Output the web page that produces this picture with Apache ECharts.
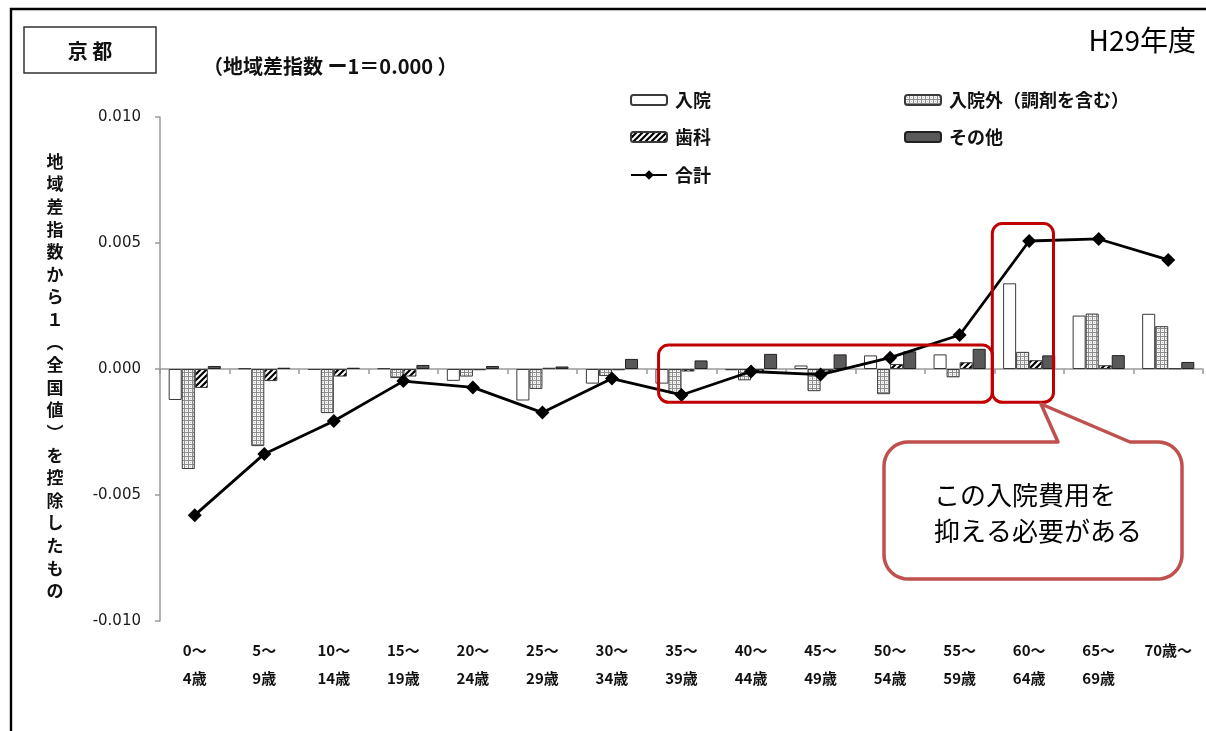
<!DOCTYPE html>
<html>
<head>
<meta charset="utf-8">
<script src="https://cdn.jsdelivr.net/npm/echarts@6/dist/echarts.min.js"></script>
<style>
  html, body { margin: 0; padding: 0; background: #fff; }
  #chart { width: 1206px; height: 731px; }
</style>
</head>
<body>
<div id="chart"></div>
<script>
// Age bands (x axis)
const categories = [
  '0～\n4歳', '5～\n9歳', '10～\n14歳', '15～\n19歳', '20～\n24歳',
  '25～\n29歳', '30～\n34歳', '35～\n39歳', '40～\n44歳', '45～\n49歳',
  '50～\n54歳', '55～\n59歳', '60～\n64歳', '65～\n69歳', '70歳～'
];

// Contribution to the regional difference index (index − 1), by category of care
const inpatient  = [-0.00123, 0.00003, -0.00004, 0.00003, -0.00047, -0.00125, -0.00058, -0.00058, -0.00005, 0.00014, 0.00054, 0.00058, 0.00340, 0.00212, 0.00219];
const outpatient = [-0.00397, -0.00306, -0.00175, -0.00036, -0.00030, -0.00079, -0.00028, -0.00097, -0.00045, -0.00088, -0.00100, -0.00033, 0.00068, 0.00220, 0.00170];
const dental     = [-0.00075, -0.00048, -0.00030, -0.00030, -0.00005, 0.00005, -0.00005, -0.00010, -0.00015, -0.00010, 0.00020, 0.00027, 0.00035, 0.00015, 0.00003];
const others     = [0.00012, 0.00005, 0.00005, 0.00016, 0.00012, 0.00010, 0.00040, 0.00034, 0.00060, 0.00058, 0.00070, 0.00080, 0.00054, 0.00055, 0.00028];
const total      = [-0.00580, -0.00337, -0.00206, -0.00048, -0.00073, -0.00173, -0.00038, -0.00103, -0.00010, -0.00022, 0.00045, 0.00135, 0.00508, 0.00516, 0.00433];

// Y axis ticks
const yTicks = { min: -0.010, max: 0.010, interval: 0.005 };

const JP = '"Noto Sans CJK JP", "Noto Sans", sans-serif';

// Dotted fill for outpatient bars
function dotPattern() {
  const c = document.createElement('canvas');
  c.width = 4; c.height = 4;
  const g = c.getContext('2d');
  g.fillStyle = '#f4f4f4';
  g.fillRect(0, 0, 4, 4);
  g.fillStyle = '#8c8c8c';
  g.fillRect(0, 0, 4, 1);
  g.fillRect(0, 0, 1, 4);
  g.fillStyle = '#bdbdbd';
  g.fillRect(2, 2, 1, 1);
  return c;
}

// Diagonal hatch for dental bars
function hatchPattern() {
  const s = 6;
  const c = document.createElement('canvas');
  c.width = s; c.height = s;
  const g = c.getContext('2d');
  g.fillStyle = '#ffffff';
  g.fillRect(0, 0, s, s);
  g.strokeStyle = '#000000';
  g.lineWidth = 2.2;
  g.beginPath();
  g.moveTo(-1, s + 1); g.lineTo(s + 1, -1);
  g.moveTo(-1, 1); g.lineTo(1, -1);
  g.moveTo(s - 1, s + 1); g.lineTo(s + 1, s - 1);
  g.stroke();
  return c;
}

const chart = echarts.init(document.getElementById('chart'), null, { renderer: 'canvas' });

const barBorder = { borderColor: '#3a3a3a', borderWidth: 1 };

function legendAt(name, left, top) {
  return {
    data: [name], left: left, top: top, padding: 0,
    itemWidth: 36, itemHeight: 10, itemGap: 6,
    selectedMode: false,
    textStyle: { fontFamily: JP, fontSize: 18, fontWeight: 'bold', color: '#111', lineHeight: 20,
                 padding: [0, 0, 0, 3] }
  };
}

chart.setOption({
  animation: false,
  backgroundColor: '#fff',
  grid: { left: 160, right: 3, top: 117, bottom: 110, containLabel: false },
  legend: [
    legendAt('入院', 630, 90),
    legendAt('入院外（調剤を含む）', 904, 90),
    legendAt('歯科', 630, 127),
    legendAt('その他', 904, 127),
    Object.assign(legendAt('合計', 630, 165), { itemHeight: 12 })
  ],
  xAxis: [
    {
      type: 'category', data: categories, position: 'bottom',
      axisLine: { show: false, onZero: false },
      axisTick: { show: false },
      axisLabel: {
        interval: 0, margin: 15, fontFamily: JP, fontSize: 15, fontWeight: 'bold',
        color: '#111', lineHeight: 28
      }
    },
    {
      type: 'category', data: categories, position: 'bottom',
      axisLine: { show: true, onZero: true, lineStyle: { color: '#9a9a9a', width: 1.5 } },
      axisTick: { show: true, length: 5, lineStyle: { color: '#9a9a9a', width: 1.5 } },
      axisLabel: { show: false }
    }
  ],
  yAxis: {
    type: 'value', min: yTicks.min, max: yTicks.max, interval: yTicks.interval,
    axisLine: { show: true, lineStyle: { color: '#9a9a9a', width: 1.5 } },
    axisTick: { show: true, length: 5, lineStyle: { color: '#9a9a9a', width: 1.5 } },
    splitLine: { show: false },
    axisLabel: {
      margin: 19, fontFamily: '"DejaVu Sans", sans-serif', fontSize: 15, color: '#1a1a1a',
      formatter: v => v.toFixed(3)
    }
  },
  series: [
    {
      name: '入院', type: 'bar', data: inpatient, xAxisIndex: 0,
      barGap: '0%', barCategoryGap: '25%',
      itemStyle: Object.assign({ color: '#ffffff' }, barBorder)
    },
    {
      name: '入院外（調剤を含む）', type: 'bar', data: outpatient, xAxisIndex: 0,
      barGap: '0%', barCategoryGap: '25%',
      itemStyle: Object.assign({ color: { image: dotPattern(), repeat: 'repeat' } }, barBorder)
    },
    {
      name: '歯科', type: 'bar', data: dental, xAxisIndex: 0,
      barGap: '0%', barCategoryGap: '25%',
      itemStyle: Object.assign({ color: { image: hatchPattern(), repeat: 'repeat' } }, barBorder)
    },
    {
      name: 'その他', type: 'bar', data: others, xAxisIndex: 0,
      barGap: '0%', barCategoryGap: '25%',
      itemStyle: { color: '#595959', borderColor: '#222', borderWidth: 1 }
    },
    {
      name: '合計', type: 'line', data: total, xAxisIndex: 0, z: 5,
      symbol: 'diamond', symbolSize: 14,
      lineStyle: { color: '#000', width: 2.8 },
      itemStyle: { color: '#000' }
    }
  ]
});

// Annotations placed from axis coordinates
const px = (i, v) => chart.convertToPixel({ xAxisIndex: 0, yAxisIndex: 0 }, [i, v]);
const band = px(1, 0)[0] - px(0, 0)[0];
const box1L = px(7, 0)[0] - 0.33 * band;
const box1R = px(11, 0)[0] + 0.47 * band;
const boxTop1 = px(0, 0.00095)[1];
const boxBot = px(0, -0.00132)[1];
const box2L = box1R;
const box2R = px(12, 0)[0] + 0.35 * band;
const boxTop2 = px(0, 0.00577)[1];

const yName = ['地','域','差','指','数','か','ら','１','︵','全','国','値','︶','を','控','除','し','た','も','の'].join('\n');

// Speech bubble outline: rounded box with a pointer on its top edge
const cb = { l: 884, r: 1182, t: 442, b: 579, rad: 24 };
const tip = [1041, 404];
const baseL = 1058, baseR = 1130;
function arc(cx, cy, r, a0, a1, n) {
  const pts = [];
  for (let k = 0; k <= n; k++) {
    const a = a0 + (a1 - a0) * k / n;
    pts.push([cx + r * Math.cos(a), cy + r * Math.sin(a)]);
  }
  return pts;
}
const H = Math.PI / 2;
const bubble = [].concat(
  [[baseL, cb.t], tip, [baseR, cb.t]],
  arc(cb.r - cb.rad, cb.t + cb.rad, cb.rad, -H, 0, 10),
  arc(cb.r - cb.rad, cb.b - cb.rad, cb.rad, 0, H, 10),
  arc(cb.l + cb.rad, cb.b - cb.rad, cb.rad, H, 2 * H, 10),
  arc(cb.l + cb.rad, cb.t + cb.rad, cb.rad, 2 * H, 3 * H, 10)
);

chart.setOption({
  graphic: [
    // page frame
    { type: 'polyline', shape: { points: [[11, 731], [11, 9], [1206, 9]] },
      style: { stroke: '#000', lineWidth: 2.4, fill: null }, z: 1 },
    // region box
    { type: 'rect', shape: { x: 24, y: 27, width: 132, height: 46 },
      style: { stroke: '#333', lineWidth: 1.5, fill: '#fff' } },
    { type: 'text', x: 90, y: 51,
      style: { text: '京 都', fontFamily: JP, fontSize: 20, fontWeight: 'bold', fill: '#111',
               align: 'center', verticalAlign: 'middle' } },
    { type: 'text', x: 203, y: 66,
      style: { text: '（地域差指数 ー1＝0.000 ）', fontFamily: JP, fontSize: 20, fontWeight: 'bold', fill: '#111',
               align: 'left', verticalAlign: 'middle' } },
    { type: 'text', x: 1196, y: 40,
      style: { text: 'H29年度', fontFamily: JP, fontSize: 28, fill: '#000',
               align: 'right', verticalAlign: 'middle' } },
    // vertical axis title
    { type: 'text', x: 55, y: 150,
      style: { text: yName, fontFamily: JP, fontSize: 17, fontWeight: 'bold', lineHeight: 22.6, fill: '#111',
               align: 'center', verticalAlign: 'top' } },
    // highlight frames
    { type: 'rect', z: 10,
      shape: { x: box1L, y: boxTop1, width: box1R - box1L, height: boxBot - boxTop1, r: 10 },
      style: { stroke: '#c00000', lineWidth: 3, fill: null } },
    { type: 'rect', z: 10,
      shape: { x: box2L, y: boxTop2, width: box2R - box2L, height: boxBot - boxTop2, r: 10 },
      style: { stroke: '#c00000', lineWidth: 3, fill: null } },
    // callout
    { type: 'polygon', z: 11, shape: { points: bubble },
      style: { stroke: '#c0504d', lineWidth: 3.5, fill: '#fff', lineJoin: 'round' } },
    { type: 'text', z: 12, x: 934, y: 495,
      style: { text: 'この入院費用を', fontFamily: JP, fontSize: 26, fill: '#000',
               align: 'left', verticalAlign: 'middle' } },
    { type: 'text', z: 12, x: 934, y: 531,
      style: { text: '抑える必要がある', fontFamily: JP, fontSize: 26, fill: '#000',
               align: 'left', verticalAlign: 'middle' } }
  ]
});
</script>
</body>
</html>
